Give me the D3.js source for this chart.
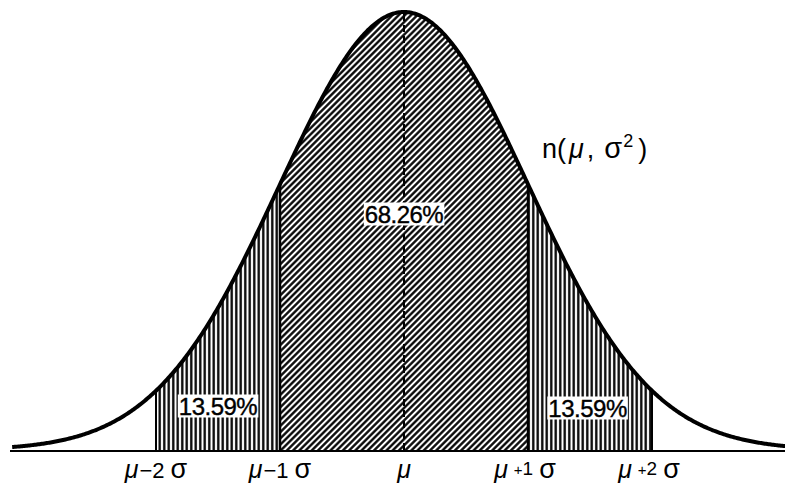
<!DOCTYPE html>
<html>
<head>
<meta charset="utf-8">
<script src="https://cdn.jsdelivr.net/npm/d3@7"></script>
<style>
	body { margin: 0; background: #fff; }
	svg { display: block; font-family: "Liberation Sans", Arial, sans-serif; }
</style>
</head>
<body>
<div id="chart"></div>
<script>

// values
const mu = 0;
const sigma = 1;
const sigmaTicks = [-2, -1, 0, 1, 2];
const tickSigns = ['−', '−', '', '+', '+'];
const tickNums = ['2', '1', '', '1', '2'];
const regions = [
	{ from: -2, to: -1, label: '13.59%', hatch: 'vert' },
	{ from: -1, to: 1, label: '68.26%', hatch: 'diag' },
	{ from: 1, to: 2, label: '13.59%', hatch: 'vert' }
];

const width = 785;
const height = 496;
const baseY = 450;
const peakY = 12;

const pdf = z => Math.exp(-0.5 * ((z - mu) / sigma) ** 2);

const svg = d3.select('#chart')
	.append('svg')
		.attr('width', width)
		.attr('height', height);

const xScale = d3.scaleLinear()
	.domain([-3.2, 3.2])
	.range([404 - 3.2 * 124, 404 + 3.2 * 124]);

const yScale = d3.scaleLinear()
	.domain([0, 1])
	.range([baseY, peakY]);

// hatch patterns
const defs = svg.append('defs');

const dp = 4.4;
const diag = defs.append('pattern')
	.attr('id', 'diag')
	.attr('patternUnits', 'userSpaceOnUse')
	.attr('width', dp)
	.attr('height', dp)
	.attr('patternTransform', 'rotate(45)');
diag.append('rect').attr('width', dp).attr('height', dp).attr('fill', '#fff');
diag.append('line')
	.attr('x1', dp / 2).attr('y1', 0).attr('x2', dp / 2).attr('y2', dp)
	.attr('stroke', '#000').attr('stroke-width', 2.3);

const vp = 4.5;
const vert = defs.append('pattern')
	.attr('id', 'vert')
	.attr('patternUnits', 'userSpaceOnUse')
	.attr('width', vp)
	.attr('height', 10);
vert.append('rect').attr('width', vp).attr('height', 10).attr('fill', '#fff');
vert.append('line')
	.attr('x1', vp / 2).attr('y1', 0).attr('x2', vp / 2).attr('y2', 10)
	.attr('stroke', '#000').attr('stroke-width', 2.3);

const area = d3.area()
	.x(d => xScale(d))
	.y0(baseY)
	.y1(d => yScale(pdf(d)));

regions.forEach(r => {
	svg.append('path')
		.datum(d3.range(r.from, r.to + 0.0001, 0.01))
		.attr('d', area)
		.attr('fill', `url(#${r.hatch})`);
});

// boundary lines
svg.selectAll('.bound')
	.data(sigmaTicks.filter(d => d !== 0))
	.join('line')
		.attr('x1', d => xScale(d))
		.attr('x2', d => xScale(d))
		.attr('y1', baseY)
		.attr('y2', d => yScale(pdf(d)))
		.attr('stroke', '#000')
		.attr('stroke-width', d => Math.abs(d) === 1 ? 2.5 : 2);

// dashed line at mean
svg.append('line')
	.attr('x1', xScale(mu)).attr('x2', xScale(mu))
	.attr('y1', baseY).attr('y2', yScale(pdf(mu)))
	.attr('stroke', '#000')
	.attr('stroke-width', 2)
	.attr('stroke-dasharray', '7,4');

// baseline
svg.append('line')
	.attr('x1', 10).attr('x2', width)
	.attr('y1', baseY + 1).attr('y2', baseY + 1)
	.attr('stroke', '#000')
	.attr('stroke-width', 2);

// curve
const line = d3.line()
	.x(d => xScale(d))
	.y(d => yScale(pdf(d)));

svg.append('path')
	.datum(d3.range(-3.16, 3.2, 0.01))
	.attr('d', line)
	.attr('fill', 'none')
	.attr('stroke', '#000')
	.attr('stroke-width', 4);

// percentage labels with white boxes
const labelPos = [
	{ x: -1.5, y: 406 },
	{ x: 0, y: 214 },
	{ x: 1.48, y: 408 }
];
regions.forEach((r, i) => {
	const g = svg.append('g')
		.attr('transform', `translate(${xScale(labelPos[i].x)}, ${labelPos[i].y})`);
	const t = g.append('text')
		.attr('text-anchor', 'middle')
		.attr('dominant-baseline', 'central')
		.attr('font-size', 24)
		.attr('letter-spacing', -0.5)
		.attr('stroke', '#000')
		.attr('stroke-width', 0.4)
		.text(r.label);
	const bb = t.node().getBBox();
	g.insert('rect', 'text')
		.attr('x', bb.x - 1)
		.attr('y', bb.y + 2)
		.attr('width', bb.width + 2)
		.attr('height', bb.height - 4)
		.attr('fill', '#fff');
});

// tick labels
const ticks = svg.selectAll('.tick')
	.data(sigmaTicks)
	.join('text')
		.attr('class', 'tick')
		.attr('x', d => xScale(d) + (d > 0 ? -3 : 0))
		.attr('y', 478)
		.attr('text-anchor', 'middle')
		.attr('font-size', 25);

ticks.append('tspan')
	.attr('font-style', 'italic')
	.text('μ');
ticks.filter(d => d !== 0).each(function (d) {
	const idx = sigmaTicks.indexOf(d);
	const t = d3.select(this);
	t.append('tspan')
		.attr('font-size', idx > 2 ? 15 : 22)
		.attr('dx', idx > 2 ? 6 : 1)
		.attr('dy', idx > 2 ? -3 : 0)
		.text(tickSigns[idx]);
	t.append('tspan')
		.attr('font-size', idx > 2 ? 19 : 22)
		.text(tickNums[idx]);
	t.append('tspan')
		.attr('dx', 6)
		.attr('dy', idx > 2 ? 3 : 0)
		.attr('font-size', 27)
		.text('σ');
});

// curve title
const title = svg.append('text')
	.attr('x', 542)
	.attr('y', 158)
	.attr('font-size', 27);
title.append('tspan').text('n(');
title.append('tspan').attr('font-style', 'italic').attr('dx', 3).text('μ');
title.append('tspan').attr('dx', 3).text(',');
title.append('tspan').attr('dx', 10).attr('font-size', 29).text('σ');
title.append('tspan').attr('font-size', 18).attr('dy', -11).attr('dx', 1).text('2');
title.append('tspan').attr('dy', 11).attr('dx', 5).text(')');

</script>
</body>
</html>
